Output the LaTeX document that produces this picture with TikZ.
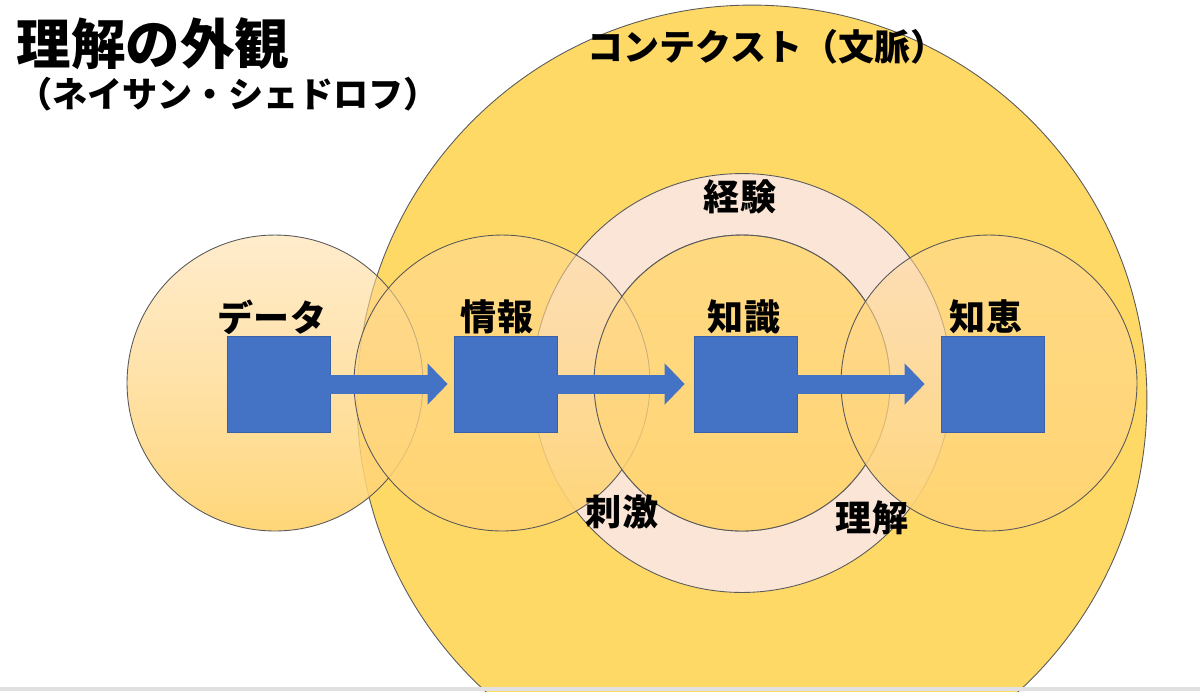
\documentclass[tikz,border=0pt]{standalone}
\usepackage{fontspec}
\newfontfamily\jpfont{Noto Sans CJK JP}
\usetikzlibrary{arrows.meta,positioning,fadings}
\definecolor{ctxgold}{RGB}{255,217,102}
\definecolor{ringpink}{RGB}{251,229,214}
\definecolor{orbtop}{RGB}{255,217,153}
\definecolor{orbbottom}{RGB}{255,212,113}
\definecolor{boxblue}{RGB}{68,114,196}
\definecolor{edgegray}{RGB}{90,90,90}
\definecolor{stripgray}{RGB}{225,225,225}
\tikzfading[name=orbfade, top color=transparent!50, bottom color=transparent!5]

\begin{document}
\begin{tikzpicture}[x=0.02cm, y=-0.02cm,
    every node/.style={font=\jpfont\bfseries},
    lbl/.style={font=\jpfont\bfseries\fontsize{20.5pt}{24pt}\selectfont, inner sep=0pt},
    sq/.style={draw=boxblue!85!black, line width=0.4pt, fill=boxblue, minimum width=2.06cm, minimum height=1.92cm, inner sep=0pt},
    flow/.style={boxblue, line width=0.38cm, -{Triangle[length=0.4cm, width=0.8cm]}},
    orbline/.style={draw=edgegray, line width=0.5pt}]
    \useasboundingbox (0,0) rectangle (1200,691);
    % context and experience ring
    \draw[orbline, fill=ctxgold] (752,400) circle[radius=7.9cm];
    \draw[orbline, fill=ringpink, even odd rule] (742,383) circle[radius=4.19cm] (742,383) circle[radius=2.96cm];
    % the four stages
    \foreach \cx in {275,502,742,989} {
      \path[top color=orbtop, bottom color=orbbottom, path fading=orbfade] (\cx,383) circle[radius=2.96cm];
      \draw[orbline] (\cx,383) circle[radius=2.96cm];
    }
    \node[sq] (sqdata) at (278.5,384) {};
    \node[sq] (sqinfo) at (505.5,384) {};
    \node[sq] (sqknow) at (745.5,384) {};
    \node[sq] (sqwise) at (992.5,384) {};
    \draw[flow, shorten >=0.12cm] (sqdata) -- (sqinfo);
    \draw[flow, shorten >=0.18cm] (sqinfo) -- (sqknow);
    \draw[flow, shorten >=0.32cm] (sqknow) -- (sqwise);
    \node[lbl] (tdata) at (272,317) {データ};
    \node[lbl] (tinfo) at (497,317) {情報};
    \node[lbl] (tknow) at (744,317) {知識};
    \node[lbl] (twise) at (986,317) {知恵};
    \node[lbl] (texp) at (740,197) {経験};
    \node[lbl] (tstim) at (622,512) {刺激};
    \node[lbl] (tund) at (872,518) {理解};
    \node[lbl] (tctx) at (767,47) {コンテクスト（文脈）};
    % title
    \node[font=\jpfont\bfseries\fontsize{31pt}{36pt}\selectfont, inner sep=0pt] (title) at (153,43.5) {理解の外観};
    \node[font=\jpfont\bfseries\fontsize{20pt}{24pt}\selectfont, inner sep=0pt] (author) at (228,94) {（ネイサン・シェドロフ）};
    \fill[stripgray] (0,687) rectangle (1200,691);
\end{tikzpicture}
\end{document}
